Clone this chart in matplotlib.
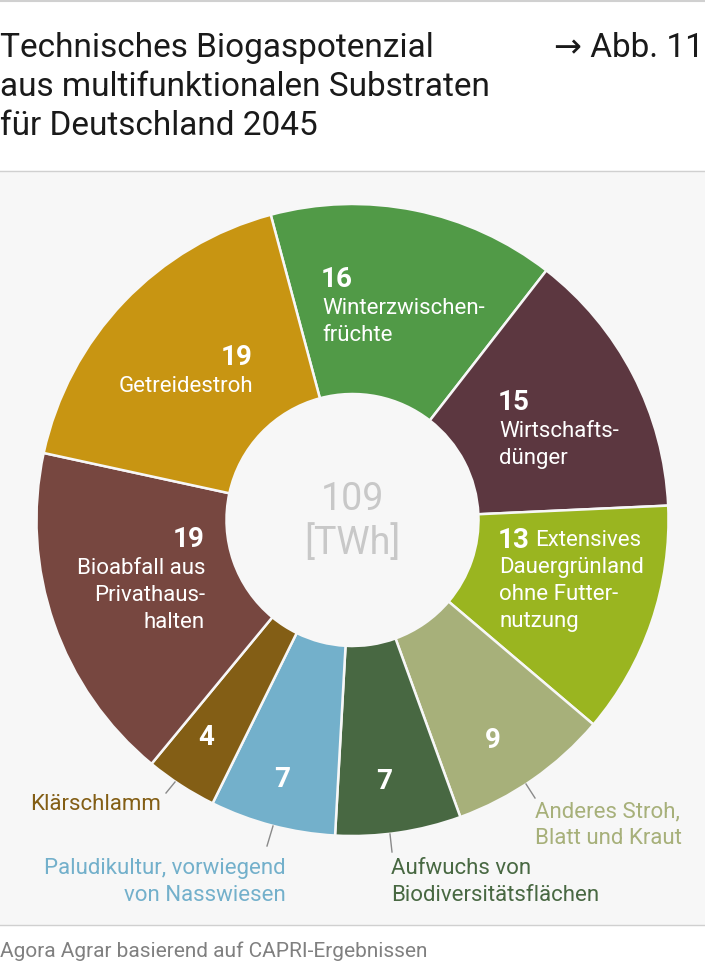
import matplotlib.pyplot as plt
from matplotlib.patches import Rectangle

plt.rcParams['font.family'] = ['Roboto', 'DejaVu Sans']

# Daten (TWh)
labels = ['Winterzwischenfrüchte', 'Wirtschaftsdünger', 'Extensives Dauergrünland ohne Futternutzung',
          'Anderes Stroh, Blatt und Kraut', 'Aufwuchs von Biodiversitätsflächen',
          'Paludikultur, vorwiegend von Nasswiesen', 'Klärschlamm',
          'Bioabfall aus Privathaushalten', 'Getreidestroh']
values = [16, 15, 13, 9, 7, 7, 4, 19, 19]
colors = ['#519a47', '#5c3740', '#9ab520', '#a7b07a', '#486842',
          '#73b0cb', '#835e15', '#774740', '#c89512']
total = sum(values)

W, H = 705, 978
fig = plt.figure(figsize=(W / 100, H / 100), dpi=100)
ax = fig.add_axes([0, 0, 1, 1])


def Y(y):
    # Pixel von oben -> Achsenkoordinate
    return H - y


def lines(x, y0, rows, ha='left', color='white', fs=16, step=27, **kw):
    for i, row in enumerate(rows):
        ax.text(x, Y(y0 + i * step), row, fontsize=fs, color=color, ha=ha, va='center', **kw)


# Hintergrund und Linien
ax.add_patch(Rectangle((0, Y(925)), W, 925 - 172, color='#f7f7f7', zorder=0))
ax.plot([0, W], [Y(1.5), Y(1.5)], color='#d0d0d0', lw=1.5)
ax.plot([0, W], [Y(172), Y(172)], color='#d0d0d0', lw=1)
ax.plot([0, W], [Y(926), Y(926)], color='#d0d0d0', lw=1)

# Titel
title_rows = ['Technisches Biogaspotenzial', 'aus multifunktionalen Substraten', 'für Deutschland 2045']
for i, row in enumerate(title_rows):
    ax.text(0, Y(57 + i * 39), row, fontsize=24, color='#1a1a1a', ha='left', va='baseline')
ax.text(W - 1, Y(57), '→ Abb. 11', fontsize=24, color='#1a1a1a', ha='right', va='baseline')
ax.text(0, Y(957), 'Agora Agrar basierend auf CAPRI-Ergebnissen', fontsize=15,
        color='#808080', ha='left', va='baseline')

# Donut
cx, cy, R, r = 352.5, Y(521), 316, 126
ax.pie(values, colors=colors, startangle=105, counterclock=False, radius=R, center=(cx, cy),
       wedgeprops=dict(width=R - r, edgecolor='#f7f7f7', linewidth=1.8), frame=True)
ax.set_xlim(0, W)
ax.set_ylim(0, H)
ax.set_aspect('equal')
ax.axis('off')

ax.text(cx, Y(500), str(total), fontsize=27, color='#c8c8c8', ha='center', va='center')
ax.text(cx, Y(543), '[TWh]', fontsize=27, color='#c8c8c8', ha='center', va='center')

num_fs = 20
txt_fs = 16
bold = dict(fontsize=num_fs, fontweight='bold', color='white', va='center')

# Beschriftungen im Ring
ax.text(253, Y(358), str(values[8]), ha='right', **bold)
lines(253, 387, ['Getreidestroh'], ha='right')

ax.text(205, Y(540), str(values[7]), ha='right', **bold)
lines(205, 569, ['Bioabfall aus', 'Privathaus-', 'halten'], ha='right')

ax.text(321, Y(280), str(values[0]), ha='left', **bold)
lines(322, 309, ['Winterzwischen-', 'früchte'])

ax.text(498, Y(403), str(values[1]), ha='left', **bold)
lines(499, 432, ['Wirtschafts-', 'dünger'])

ax.text(498, Y(541), str(values[2]), ha='left', **bold)
ax.text(535, Y(541), 'Extensives', fontsize=txt_fs, color='white', ha='left', va='center')
lines(499, 568, ['Dauergrünland', 'ohne Futter-', 'nutzung'])

ax.text(493, Y(741), str(values[3]), ha='center', **bold)
ax.text(384, Y(782), str(values[4]), ha='center', **bold)
ax.text(282, Y(780), str(values[5]), ha='center', **bold)
ax.text(206, Y(738), str(values[6]), ha='center', **bold)

# Außenbeschriftungen mit Führungslinien
lead = '#8a8a8a'
ax.plot([175, 166], [Y(783), Y(794)], color=lead, lw=1)
lines(161, 805, ['Klärschlamm'], ha='right', color=colors[6])

ax.plot([273, 267], [Y(827), Y(847)], color=lead, lw=1)
lines(286, 869, ['Paludikultur, vorwiegend', 'von Nasswiesen'], ha='right', color=colors[5])

ax.plot([390, 392], [Y(835), Y(853)], color=lead, lw=1)
lines(391, 869, ['Aufwuchs von', 'Biodiversitätsflächen'], color=colors[4])

ax.plot([526, 535], [Y(785), Y(799)], color=lead, lw=1)
lines(535, 812, ['Anderes Stroh,', 'Blatt und Kraut'], color=colors[3])

fig.savefig('out.png', dpi=100)
